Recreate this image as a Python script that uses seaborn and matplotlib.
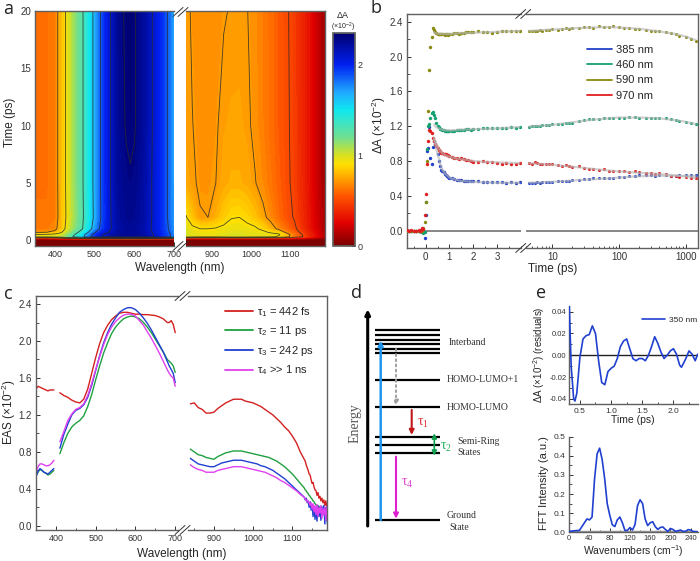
import numpy as np
import seaborn as sns
import matplotlib.pyplot as plt
from matplotlib.colors import LinearSegmentedColormap
from matplotlib.cm import ScalarMappable
from matplotlib.lines import Line2D
from matplotlib.ticker import MultipleLocator, FixedLocator, NullFormatter

#------------------------------------------------------------------------------
# data
#------------------------------------------------------------------------------

# panel a, transient map
map_times = [-0.5, 0.05, 0.16, 0.3, 0.5, 0.7, 1, 2, 5, 10, 20]
map_wl_left = [350, 380, 400, 410, 420, 430, 450, 470, 480, 490, 500, 510, 520, 540, 560, 580, 590, 600, 620, 640, 660, 680, 690, 700]
map_left_t20 = [.62, .62, .64, .75, .83, .93, 1.12, 1.29, 1.40, 1.53, 1.65, 1.79, 1.91, 2.10, 2.26, 2.32, 2.33, 2.31, 2.24, 2.13, 2.02, 1.88, 1.80, 1.70]
map_left_t10 = [.62, .62, .64, .75, .83, .93, 1.12, 1.29, 1.40, 1.53, 1.65, 1.79, 1.91, 2.10, 2.25, 2.31, 2.32, 2.31, 2.24, 2.13, 2.02, 1.88, 1.80, 1.70]
map_left_t5 = [.62, .62, .64, .75, .83, .93, 1.12, 1.29, 1.40, 1.53, 1.65, 1.79, 1.91, 2.10, 2.24, 2.28, 2.29, 2.28, 2.22, 2.12, 2.02, 1.88, 1.80, 1.70]
map_left_t2 = [.63, .63, .65, .74, .83, .92, 1.10, 1.28, 1.39, 1.52, 1.64, 1.78, 1.90, 2.09, 2.22, 2.26, 2.27, 2.26, 2.21, 2.12, 2.02, 1.88, 1.80, 1.72]
map_left_t1 = [.65, .65, .68, .76, .84, .95, 1.14, 1.30, 1.43, 1.56, 1.70, 1.83, 1.93, 2.09, 2.20, 2.24, 2.25, 2.24, 2.19, 2.11, 2.02, 1.89, 1.82, 1.74]
map_left_t07 = [.70, .72, .76, .84, .92, 1.02, 1.22, 1.40, 1.54, 1.68, 1.82, 1.93, 2.02, 2.13, 2.21, 2.24, 2.25, 2.24, 2.20, 2.12, 2.03, 1.91, 1.84, 1.74]
map_left_t05 = [.90, .92, .95, .97, 1.02, 1.10, 1.30, 1.52, 1.66, 1.80, 1.92, 2.02, 2.09, 2.17, 2.23, 2.25, 2.26, 2.25, 2.21, 2.14, 2.05, 1.93, 1.86, 1.76]
map_left_t03 = [.95, .96, .98, 1.00, 1.05, 1.15, 1.35, 1.55, 1.70, 1.84, 1.95, 2.04, 2.10, 2.18, 2.23, 2.25, 2.26, 2.25, 2.21, 2.14, 2.05, 1.93, 1.86, 1.76]
map_left_t016 = [.25, .25, .30, .40, .45, .50, .55, .60, .62, .65, .68, .70, .72, .75, .78, .80, .80, .80, .78, .75, .72, .68, .66, .60]
map_left_t005 = [.02] * 24
map_left_start = [.01] * 24

map_wl_right = [834, 850, 870, 890, 910, 930, 950, 970, 990, 1010, 1030, 1050, 1070, 1090, 1110, 1130, 1150, 1170, 1190]
map_right_t20 = [.74, .71, .70, .70, .70, .715, .725, .73, .722, .69, .65, .61, .56, .515, .46, .38, .29, .18, .10]
map_right_t10 = [.735, .722, .70, .70, .712, .74, .75, .75, .735, .70, .655, .61, .56, .52, .465, .38, .29, .18, .10]
map_right_t5 = [.76, .73, .71, .71, .72, .76, .78, .78, .76, .725, .68, .63, .575, .525, .47, .385, .29, .18, .10]
map_right_t2 = [.91, .82, .725, .72, .78, .84, .895, .90, .87, .82, .75, .68, .60, .54, .49, .40, .30, .20, .11]
map_right_t1 = [.98, .93, .90, .90, .91, .93, .94, .94, .93, .92, .87, .78, .69, .60, .53, .42, .31, .21, .12]
map_right_t07 = [1.0, .96, .93, .92, .93, .95, .97, .97, .96, .95, .93, .88, .85, .68, .57, .46, .34, .23, .13]
map_right_t05 = [1.0, .97, .95, .94, .95, .97, .99, .99, .98, .97, .96, .95, .92, .80, .62, .50, .36, .24, .13]
map_right_t03 = [.98, .95, .93, .92, .93, .95, .97, .97, .96, .95, .94, .92, .88, .78, .62, .51, .37, .24, .13]
map_right_t016 = [.30, .28, .27, .27, .27, .28, .29, .29, .29, .28, .27, .26, .25, .23, .20, .17, .13, .08, .05]
map_right_t005 = [.02] * 19
map_right_start = [.01] * 19

contour_levels = [.5, .72, .9, 1.3, 1.6, 1.85, 2.1, 2.3]

# colour bar stops
cbar_values = [0, .25, .55, .75, .9, 1.0, 1.2, 1.5, 1.7, 2.0, 2.35]
cbar_colors = ['#7a0000', '#e00000', '#ff5500', '#ffa500', '#ffe000', '#d8e020', '#70e090', '#10e8f0', '#20a8ff', '#0020f0', '#000070']

# panel b, kinetics
t_early = [-0.8, -0.7, -0.6, -0.5, -0.4, -0.3, -0.25, -0.2, -0.15, -0.1, -0.05, 0.0, 0.05, 0.1, 0.15, 0.2, 0.25, 0.3, 0.35, 0.4, 0.45, 0.5, 0.55, 0.6, 0.65, 0.7, 0.75, 0.8, 0.85, 0.9, 0.95, 1.0, 1.1, 1.2, 1.3, 1.4, 1.5, 1.6, 1.7, 1.8, 1.9, 2.0, 2.2, 2.4, 2.6, 2.8, 3.0, 3.2, 3.4, 3.6, 3.8, 3.95]
k385_early = [0, 0, 0, 0, 0, 0, -.01, 0, -.01, -.02, -.08, .18, .92, .95, 1.19, .84, .77, .96, 1.03, 1.0, .97, .88, .8, .74, .7, .68, .67, .65, .64, .63, .62, .61, .6, .59, .585, .58, .58, .575, .57, .57, .57, .565, .57, .56, .56, .555, .555, .56, .55, .555, .55, .555]
k460_early = [0, 0, 0, 0, 0, 0, -.01, -.01, -.02, -.03, -.02, .33, .94, 1.2, 1.22, 1.3, 1.35, 1.36, 1.33, 1.3, 1.24, 1.2, 1.19, 1.17, 1.165, 1.16, 1.155, 1.15, 1.15, 1.145, 1.14, 1.14, 1.145, 1.15, 1.155, 1.155, 1.16, 1.16, 1.165, 1.165, 1.16, 1.17, 1.17, 1.175, 1.175, 1.18, 1.18, 1.185, 1.18, 1.19, 1.185, 1.19]
k590_early = [0, 0, 0, 0, 0, 0, 0, 0, 0, .03, .1, .33, .8, 1.37, 1.85, 2.11, 2.23, 2.33, 2.31, 2.28, 2.27, 2.26, 2.26, 2.255, 2.26, 2.255, 2.26, 2.25, 2.26, 2.26, 2.25, 2.26, 2.26, 2.27, 2.27, 2.265, 2.275, 2.27, 2.28, 2.285, 2.28, 2.28, 2.29, 2.28, 2.28, 2.27, 2.285, 2.29, 2.29, 2.295, 2.29, 2.3]
k970_early = [.01, 0, .01, 0, 0, .01, 0, .01, .03, .02, .18, .42, .76, 1.03, 1.16, 1.15, 1.12, 1.06, 1.03, 1.0, .97, .95, .93, .91, .89, .89, .88, .88, .88, .87, .87, .86, .85, .84, .83, .82, .83, .82, .81, .81, .8, .79, .79, .8, .79, .79, .78, .77, .78, .77, .77, .775]

t_late = [4.5, 5, 5.5, 6, 6.5, 7, 8, 9, 10, 12, 14, 16, 18, 20, 25, 30, 35, 40, 50, 60, 70, 80, 100, 120, 140, 170, 200, 250, 300, 350, 400, 500, 600, 700, 800, 1000, 1200, 1400]
k385_late = [.55, .55, .55, .555, .55, .56, .56, .555, .56, .565, .57, .57, .57, .58, .58, .59, .595, .6, .6, .6, .61, .61, .615, .62, .63, .63, .635, .635, .64, .63, .635, .635, .63, .63, .635, .64, .635, .64]
k460_late = [1.19, 1.2, 1.2, 1.2, 1.2, 1.21, 1.21, 1.21, 1.22, 1.22, 1.23, 1.24, 1.24, 1.24, 1.26, 1.27, 1.28, 1.28, 1.28, 1.29, 1.29, 1.29, 1.3, 1.3, 1.305, 1.31, 1.3, 1.3, 1.3, 1.295, 1.29, 1.29, 1.28, 1.27, 1.26, 1.25, 1.24, 1.22]
k590_late = [2.3, 2.29, 2.3, 2.3, 2.31, 2.3, 2.31, 2.31, 2.32, 2.31, 2.32, 2.33, 2.32, 2.33, 2.33, 2.34, 2.34, 2.33, 2.35, 2.34, 2.34, 2.35, 2.34, 2.33, 2.33, 2.32, 2.32, 2.31, 2.3, 2.3, 2.29, 2.28, 2.27, 2.26, 2.24, 2.22, 2.2, 2.18]
k970_late = [.78, .77, .79, .78, .76, .77, .76, .77, .76, .75, .74, .75, .74, .73, .74, .72, .71, .71, .7, .71, .69, .69, .68, .68, .67, .68, .67, .66, .66, .65, .66, .65, .63, .63, .62, .62, .61, .6]

fit_t_early = [.35, .4, .5, .6, .7, .8, 1, 1.25, 1.5, 2, 2.5, 3, 3.95]
fit385_early = [1.05, 1.0, .88, .78, .7, .66, .61, .585, .57, .56, .555, .55, .55]
fit460_early = [1.22, 1.2, 1.18, 1.17, 1.16, 1.155, 1.15, 1.155, 1.16, 1.165, 1.17, 1.175, 1.19]
fit590_early = [2.28, 2.27, 2.265, 2.26, 2.26, 2.26, 2.26, 2.265, 2.27, 2.275, 2.28, 2.285, 2.295]
fit970_early = [1.07, 1.03, .97, .92, .89, .87, .85, .83, .82, .8, .79, .785, .775]
fit_t_late = [4.5, 7, 10, 20, 40, 70, 100, 200, 400, 700, 1000, 1400]
fit385_late = [.55, .555, .56, .575, .59, .6, .61, .625, .63, .63, .63, .63]
fit460_late = [1.195, 1.205, 1.215, 1.245, 1.275, 1.29, 1.3, 1.3, 1.29, 1.27, 1.25, 1.225]
fit590_late = [2.295, 2.305, 2.31, 2.325, 2.335, 2.34, 2.335, 2.32, 2.29, 2.26, 2.23, 2.19]
fit970_late = [.775, .765, .755, .735, .71, .69, .68, .665, .65, .635, .62, .605]

kinetic_labels = ['385 nm', '460 nm', '590 nm', '970 nm']
kinetic_colors = ['#2242c8', '#14a070', '#8a8a10', '#e02020']

# panel c, spectra
eas_wl_a = [350, 355, 360, 365, 370, 375, 380, 385, 390, 395]
eas1_a = [1.48, 1.51, 1.5, 1.49, 1.48, 1.47, 1.46, 1.47, 1.47, 1.47]
eas2_a = [.54, .58, .61, .6, .58, .57, .55, .56, .58, .6]
eas3_a = [.53, .59, .62, .6, .58, .57, .56, .58, .6, .62]
eas4_a = [.58, .64, .67, .67, .66, .65, .65, .66, .68, .71]
eas_wl_b = [410, 420, 430, 440, 450, 460, 470, 480, 490, 500, 510, 520, 530, 540, 550, 560, 570, 580, 590, 600, 610, 620, 630, 640, 650, 660, 670, 680, 685, 690, 695, 700]
eas1_b = [1.44, 1.41, 1.39, 1.36, 1.34, 1.33, 1.37, 1.48, 1.65, 1.82, 1.97, 2.09, 2.17, 2.23, 2.27, 2.3, 2.31, 2.31, 2.3, 2.29, 2.29, 2.285, 2.285, 2.28, 2.275, 2.26, 2.24, 2.2, 2.2, 2.22, 2.18, 2.09]
eas2_b = [.78, .9, 1.0, 1.07, 1.11, 1.14, 1.19, 1.29, 1.42, 1.58, 1.73, 1.87, 1.98, 2.08, 2.15, 2.2, 2.24, 2.26, 2.27, 2.26, 2.24, 2.2, 2.15, 2.09, 2.02, 1.95, 1.88, 1.8, 1.78, 1.76, 1.73, 1.66]
eas3_b = [.84, .99, 1.1, 1.2, 1.25, 1.27, 1.31, 1.39, 1.52, 1.68, 1.84, 1.98, 2.09, 2.18, 2.25, 2.31, 2.34, 2.36, 2.36, 2.34, 2.3, 2.25, 2.19, 2.12, 2.04, 1.96, 1.88, 1.78, 1.73, 1.69, 1.65, 1.55]
eas4_b = [.91, 1.02, 1.14, 1.21, 1.26, 1.28, 1.32, 1.41, 1.54, 1.69, 1.83, 1.96, 2.07, 2.15, 2.21, 2.25, 2.28, 2.29, 2.29, 2.27, 2.22, 2.17, 2.1, 2.03, 1.95, 1.87, 1.78, 1.69, 1.65, 1.62, 1.6, 1.51]
eas_wl_c = [840, 850, 860, 870, 880, 890, 900, 910, 920, 930, 940, 950, 960, 970, 980, 990, 1000, 1010, 1020, 1030, 1040, 1050, 1060, 1070, 1080, 1090, 1100, 1110, 1120,
            1130, 1132.5, 1135, 1137.5, 1140, 1142.5, 1145, 1147.5, 1150, 1152.5, 1155, 1157.5, 1160, 1162.5, 1165, 1167.5, 1170, 1172.5, 1175, 1177.5, 1180, 1182.5, 1185, 1187.5, 1190]
eas1_c = [1.32, 1.33, 1.28, 1.26, 1.22, 1.22, 1.23, 1.27, 1.3, 1.33, 1.35, 1.37, 1.37, 1.37, 1.35, 1.34, 1.33, 1.31, 1.29, 1.26, 1.23, 1.2, 1.16, 1.12, 1.07, 1.03, .97, .9, .8,
          .72, .70, .66, .63, .6, .56, .55, .5, .46, .47, .42, .39, .38, .33, .36, .3, .32, .27, .3, .25, .28, .22, .27, .2, .25]
eas2_c = [.83, .8, .77, .76, .74, .73, .72, .75, .77, .79, .8, .81, .81, .81, .8, .79, .78, .77, .76, .75, .74, .72, .7, .67, .64, .6, .56, .51, .46,
          .41, .39, .38, .36, .35, .33, .32, .3, .29, .27, .26, .24, .23, .22, .21, .2, .21, .18, .19, .17, .19, .15, .18, .14, .16]
eas3_c = [.73, .7, .67, .66, .65, .64, .64, .66, .68, .69, .7, .71, .71, .71, .7, .69, .68, .67, .65, .64, .62, .6, .57, .54, .51, .47, .43, .39, .35,
          .31, .28, .3, .25, .27, .2, .26, .17, .23, .1, .21, .07, .2, .05, .22, .1, .2, .06, .21, .12, .22, .02, .2, .08, .0]
eas4_c = [.66, .63, .61, .6, .58, .58, .58, .6, .61, .62, .63, .64, .64, .64, .63, .62, .61, .6, .59, .58, .56, .54, .52, .49, .47, .44, .41, .38, .34,
          .31, .29, .27, .28, .25, .26, .22, .25, .18, .24, .15, .22, .12, .23, .1, .2, .14, .22, .08, .19, .12, .2, .06, .21, .1]
eas_labels = [r'$\tau_1$ = 442 fs', r'$\tau_2$ = 11 ps', r'$\tau_3$ = 242 ps', r'$\tau_4$ >> 1 ns']
eas_colors = ['#d42020', '#20a040', '#2040d0', '#e040f0']

# panel d, level scheme (x and y in figure pixels)
level_y = [330, 335, 339.7, 344.3, 349, 353.3, 380, 407.3, 436.7, 445.3, 453.3, 520.3]
level_names = ['Interband', 'HOMO-LUMO+1', 'HOMO-LUMO', 'Semi-Ring', 'States', 'Ground', 'State']
level_name_x = [448.5, 447, 447, 457.7, 457.7, 447, 449]
level_name_y = [342.3, 380, 407, 441, 452.7, 515, 527]

# panel e, residuals and their FFT
res_t = [.33, .36, .4, .42, .45, .5, .55, .6, .65, .7, .75, .8, .85, .9, .95, 1.0, 1.05, 1.1, 1.15, 1.2, 1.25, 1.3, 1.35, 1.4, 1.45, 1.5, 1.55, 1.6, 1.65, 1.7, 1.75, 1.8, 1.85, 1.9, 1.95, 2.0, 2.05, 2.1, 2.13, 2.2, 2.25, 2.3, 2.35, 2.39]
res_val = [.045, -.01, -.04, -.042, -.035, -.002, .015, .018, .019, .027, .02, -.005, -.025, -.027, -.015, -.012, -.01, -.003, .008, .013, .015, .006, -.003, -.005, -.003, -.003, -.005, 0, .008, .017, .011, .003, -.003, 0, .004, .006, .001, -.009, -.011, -.003, .004, .001, -.005, .001]
fft_wn = [0, 10, 20, 25, 30, 35, 40, 45, 50, 55, 60, 65, 70, 75, 80, 85, 90, 95, 100, 105, 110, 115, 120, 125, 130, 135, 140, 145, 150, 155, 160, 165, 170, 175, 180, 185, 190, 195, 200, 205, 210, 215, 220, 225, 230, 235, 240, 245, 253]
fft_val = [.005, .008, .01, .03, .05, .07, .065, .08, .28, .41, .44, .38, .28, .15, .09, .04, .03, .065, .08, .05, .01, .01, .025, .012, .04, .14, .17, .15, .07, .035, .05, .055, .03, .015, .025, .028, .015, .004, .02, .015, .005, .008, .012, .005, .005, .014, .012, .004, .003]

#------------------------------------------------------------------------------
# layout helpers
#------------------------------------------------------------------------------

W, H = 700, 561
GREY = '#606060'

sns.set_theme(style='ticks')
plt.rcParams['font.family'] = ['Liberation Sans', 'DejaVu Sans']
plt.rcParams['mathtext.default'] = 'regular'
plt.rcParams['text.color'] = '#262626'
plt.rcParams['axes.labelcolor'] = '#262626'
plt.rcParams['xtick.direction'] = 'in'
plt.rcParams['ytick.direction'] = 'in'

fig = plt.figure(figsize=(W / 100, H / 100), dpi=100)

def px_axes(left, top, right, bottom, labelsize=7):
    ax = fig.add_axes([left / W, 1 - bottom / H, (right - left) / W, (bottom - top) / H])
    ax.patch.set_alpha(0)
    for s in ax.spines.values():
        s.set_color(GREY)
        s.set_linewidth(1.0)
    ax.tick_params(axis='both', which='major', labelsize=labelsize, length=3, width=.7, color='#333333', pad=3, labelcolor='#333333')
    ax.tick_params(axis='both', which='minor', length=1.8, width=.6, color='#333333')
    return ax

def px_text(x, y, s, **kw):
    kw.setdefault('ha', 'center')
    kw.setdefault('va', 'center')
    fig.text(x / W, 1 - y / H, s, **kw)

def break_marks(x0, y0, dx=10, dy=9, sep=5):
    for off in (0, sep):
        fig.add_artist(Line2D([(x0 + off) / W, (x0 + off + dx) / W],
                              [1 - (y0 + dy / 2) / H, 1 - (y0 - dy / 2) / H],
                              color='#333333', lw=.7))

def join_sides(left, right):
    left.spines['right'].set_visible(False)
    right.spines['left'].set_visible(False)
    right.tick_params(axis='y', which='both', left=False, labelleft=False)

def curve(ax, x, y, color, lw=1.0, label=None, **kw):
    sns.lineplot(x=x, y=y, ax=ax, color=color, linewidth=lw, estimator=None, sort=False, label=label, legend=False, **kw)
    ax.set_xlabel('')
    ax.set_ylabel('')

#------------------------------------------------------------------------------
# a: transient absorption map
#------------------------------------------------------------------------------

cmap = LinearSegmentedColormap.from_list('ta', [(v / 2.35, c) for v, c in zip(cbar_values, cbar_colors)], N=256)
fill_levels = np.linspace(0, 2.35, 80)

z_left = np.array([map_left_start, map_left_t005, map_left_t016, map_left_t03, map_left_t05, map_left_t07,
                   map_left_t1, map_left_t2, map_left_t5, map_left_t10, map_left_t20])
z_right = np.array([map_right_start, map_right_t005, map_right_t016, map_right_t03, map_right_t05, map_right_t07,
                    map_right_t1, map_right_t2, map_right_t5, map_right_t10, map_right_t20])

axa1 = px_axes(35, 11, 174, 246)
axa2 = px_axes(186, 11, 325, 246)
for ax, wl, z in ((axa1, map_wl_left, z_left), (axa2, map_wl_right, z_right)):
    ax.contourf(wl, map_times, z, levels=fill_levels, cmap=cmap, extend='both')
    ax.contour(wl, map_times, z, levels=contour_levels, colors='#2a2a2a', linewidths=.6, alpha=.85)
    ax.set_ylim(-0.5, 20)
    ax.tick_params(axis='x', labelsize=6.5)
axa1.set_xlim(350, 699)
axa2.set_xlim(834, 1188)
axa1.set_xticks([400, 500, 600, 700])
axa2.set_xticks([900, 1000, 1100])
axa1.xaxis.set_minor_locator(MultipleLocator(50))
axa2.xaxis.set_minor_locator(MultipleLocator(50))
axa1.set_yticks([0, 5, 10, 15, 20])
join_sides(axa1, axa2)
break_marks(173, 12)
break_marks(173, 246)
px_text(180, 268, 'Wavelength (nm)', fontsize=8.5)
px_text(10, 122, 'Time (ps)', fontsize=8.5, rotation=90)

cax = px_axes(333, 33, 355, 246)
sm = ScalarMappable(cmap=cmap, norm=plt.Normalize(0, 2.35))
cb = fig.colorbar(sm, cax=cax)
cb.set_ticks([0, 1, 2])
cb.ax.yaxis.set_minor_locator(FixedLocator([.5, 1.5]))
cb.ax.tick_params(which='major', labelsize=6.5, length=3, direction='in', color='#222222', pad=2)
cb.ax.tick_params(which='minor', length=2, direction='in', color='#222222')
cb.outline.set_edgecolor(GREY)
px_text(343, 15, '\u0394A', fontsize=6.5)
px_text(343, 27, '(\u00d710$^{-2}$)', fontsize=5)

#------------------------------------------------------------------------------
# b: kinetics
#------------------------------------------------------------------------------

axb1 = px_axes(406.7, 14, 520.7, 248)
axb2 = px_axes(525.7, 14, 697.7, 248)
early = (k385_early, k460_early, k590_early, k970_early)
late = (k385_late, k460_late, k590_late, k970_late)
fits_early = (fit385_early, fit460_early, fit590_early, fit970_early)
fits_late = (fit385_late, fit460_late, fit590_late, fit970_late)

for ax in (axb1, axb2):
    ax.axhline(0, color='#666666', lw=1.1, zorder=1)
    ax.set_ylim(-0.2, 2.49)

for i in range(4):
    sns.scatterplot(x=t_early, y=early[i], ax=axb1, color=kinetic_colors[i], s=6, linewidth=0, zorder=3)
    sns.scatterplot(x=t_late, y=late[i], ax=axb2, color=kinetic_colors[i], s=5, linewidth=0, zorder=3)
    curve(axb1, fit_t_early, fits_early[i], '#b8b8b8', lw=1.6, alpha=.65, zorder=4)
    curve(axb2, fit_t_late, fits_late[i], '#b8b8b8', lw=1.6, alpha=.65, zorder=4)

axb1.set_xlim(-0.8, 4.0)
axb1.set_xticks([0, 1, 2, 3])
axb1.xaxis.set_minor_locator(MultipleLocator(.5))
axb1.set_yticks([0, .4, .8, 1.2, 1.6, 2.0, 2.4])
axb1.set_yticklabels(['0.0', '0.4', '0.8', '1.2', '1.6', '2.0', '2.4'])
axb1.yaxis.set_minor_locator(MultipleLocator(.2))
axb2.set_xscale('log')
axb2.set_xlim(4, 1500)
axb2.set_xticks([10, 100, 1000])
axb2.set_xticklabels(['10', '100', '1000'])
axb2.xaxis.set_minor_formatter(NullFormatter())
join_sides(axb1, axb2)
break_marks(515.7, 14)
break_marks(515.7, 248)
px_text(552.7, 269, 'Time (ps)', fontsize=8.5)
px_text(379, 125, '\u0394A (\u00d710$^{-2}$)', fontsize=8.5, rotation=90)

handles = [Line2D([], [], color=c, lw=1.3) for c in kinetic_colors]
axb2.legend(handles, kinetic_labels, frameon=False, fontsize=8, loc='upper left',
            bbox_to_anchor=((586.7 - 525.7) / 172, 1 - (45 - 14) / 234), borderpad=0, borderaxespad=0,
            handlelength=2.25, handletextpad=.35, labelspacing=.47)

#------------------------------------------------------------------------------
# c: spectra
#------------------------------------------------------------------------------

axc1 = px_axes(36, 295.7, 178, 530)
axc2 = px_axes(188, 295.7, 327, 530)
part_a = (eas1_a, eas2_a, eas3_a, eas4_a)
part_b = (eas1_b, eas2_b, eas3_b, eas4_b)
part_c = (eas1_c, eas2_c, eas3_c, eas4_c)

for i in range(4):
    curve(axc1, eas_wl_a, part_a[i], eas_colors[i])
    curve(axc1, eas_wl_b, part_b[i], eas_colors[i])
    curve(axc2, eas_wl_c, part_c[i], eas_colors[i])

axc1.set_xlim(350, 707)
axc2.set_xlim(834, 1188)
for ax in (axc1, axc2):
    ax.set_ylim(-0.045, 2.49)
    ax.xaxis.set_minor_locator(MultipleLocator(50))
    ax.tick_params(axis='x', labelsize=6.5)
axc1.set_xticks([400, 500, 600, 700])
axc2.set_xticks([900, 1000, 1100])
axc1.set_yticks([0, .4, .8, 1.2, 1.6, 2.0, 2.4])
axc1.set_yticklabels(['0.0', '0.4', '0.8', '1.2', '1.6', '2.0', '2.4'])
axc1.yaxis.set_minor_locator(MultipleLocator(.2))
join_sides(axc1, axc2)
break_marks(175, 296)
break_marks(175, 530)
px_text(181.7, 554, 'Wavelength (nm)', fontsize=8.5)
px_text(9, 411.7, 'EAS (\u00d710$^{-2}$)', fontsize=8.5, rotation=90)

handles = [Line2D([], [], color=c, lw=1.3) for c in eas_colors]
axc2.legend(handles, eas_labels, frameon=False, fontsize=8, loc='upper left',
            bbox_to_anchor=((225 - 188) / 139, 1 - (305 - 295.7) / 234.3), borderpad=0, borderaxespad=0,
            handlelength=2.5, handletextpad=.4, labelspacing=.5)

#------------------------------------------------------------------------------
# d: level scheme
#------------------------------------------------------------------------------

axd = fig.add_axes([350 / W, 1 - 535 / H, 185 / W, 235 / H])
axd.set_xlim(350, 535)
axd.set_ylim(535, 300)
axd.axis('off')
axd.hlines(level_y, 375, 440, color='black', lw=1.6)

def arrow(x, y0, y1, color, lw=1.5, style='-|>', ls='-'):
    axd.annotate('', xy=(x, y1), xytext=(x, y0),
                 arrowprops=dict(arrowstyle=style, color=color, lw=lw, ls=ls, shrinkA=0, shrinkB=0, mutation_scale=7))

arrow(367.7, 526, 309.3, 'black', lw=2.2)
arrow(380.7, 520, 340.7, '#1e96f0', lw=1.8)
arrow(396, 349, 405.7, '#a0a0a0', lw=1.4, ls=':')
arrow(411.7, 410, 435, '#c01818', lw=1.5)
arrow(434.3, 433.3, 455.7, '#10a050', lw=1.2, style='<|-|>')
arrow(396, 456.7, 518.7, '#e020d0', lw=1.5)

serif = ['Liberation Serif', 'DejaVu Serif']
for x, y, name in zip(level_name_x, level_name_y, level_names):
    px_text(x, y, name, fontsize=7, family=serif, ha='left', color='#333333')
px_text(355, 423, 'Energy', fontsize=10, family=serif, rotation=90, color='#555555')
px_text(423, 423, r'$\tau_1$', fontsize=10, family=serif, color='#e03030')
px_text(446, 447, r'$\tau_2$', fontsize=10, family=serif, color='#20b060')
px_text(407, 483, r'$\tau_4$', fontsize=10, family=serif, color='#e040d0')

#------------------------------------------------------------------------------
# e: residuals and FFT
#------------------------------------------------------------------------------

axe1 = px_axes(569.3, 306, 697.7, 404, labelsize=5.5)
axe1.axhline(0, color='#222222', lw=1, zorder=1)
curve(axe1, res_t, res_val, '#2040d0', lw=1.2, zorder=3)
axe1.set_xlim(.33, 2.39)
axe1.set_ylim(-.0447, .0452)
axe1.set_xticks([.5, 1, 1.5, 2])
axe1.set_xticklabels(['0.5', '1.0', '1.5', '2.0'])
axe1.tick_params(axis='x', labelsize=6)
axe1.tick_params(axis='y', pad=2)
axe1.xaxis.set_minor_locator(MultipleLocator(.25))
axe1.set_yticks([-.04, -.02, 0, .02, .04])
axe1.set_yticklabels(['-0.04', '-0.02', '0.00', '0.02', '0.04'])
axe1.yaxis.set_minor_locator(MultipleLocator(.01))
axe1.legend([Line2D([], [], color='#2040d0', lw=1.2)], ['350 nm'], frameon=False, fontsize=6, loc='upper left',
            bbox_to_anchor=((641.7 - 569.3) / 128.4, 1 - (316 - 306) / 98), borderpad=0, borderaxespad=0,
            handlelength=2.8, handletextpad=.5)
px_text(633, 420, 'Time (ps)', fontsize=7.5)
px_text(539.5, 355, '\u0394A (\u00d710$^{-2}$) (residuals)', fontsize=7, rotation=90)

axe2 = px_axes(569.3, 436.7, 697.7, 532.3, labelsize=6)
axe2.axhline(0, color='#999999', lw=2.5, zorder=1)
curve(axe2, fft_wn, fft_val, '#2040d0', lw=1.2, zorder=3)
axe2.set_xlim(0, 254)
axe2.set_ylim(0, .5)
axe2.set_xticks(list(range(0, 241, 40)))
axe2.xaxis.set_minor_locator(MultipleLocator(20))
axe2.tick_params(axis='x', labelsize=5.5, pad=2)
axe2.set_yticks([0, .1, .2, .3, .4, .5])
axe2.set_yticklabels(['0.0', '0.1', '0.2', '0.3', '0.4', '0.5'])
axe2.yaxis.set_minor_locator(MultipleLocator(.05))
px_text(633, 551.5, 'Wavenumbers (cm$^{-1}$)', fontsize=7.5)
px_text(544, 483, 'FFT Intensity (a.u.)', fontsize=8, rotation=90)

for ax in (axe1, axe2):
    ax.spines['top'].set_visible(False)
    ax.spines['right'].set_visible(False)

# panel letters
for x, y, letter in [(8, 9, 'a'), (376, 8, 'b'), (8, 294, 'c'), (356, 293, 'd'), (541, 293, 'e')]:
    px_text(x, y, letter, fontsize=13, family=['Open Sans', 'DejaVu Sans'], color='#222222')

fig.savefig('out.png', dpi=100)
